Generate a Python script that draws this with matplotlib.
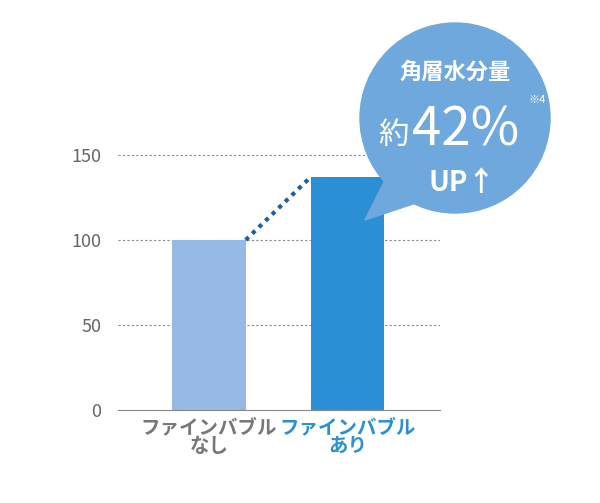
import matplotlib
matplotlib.use("Agg")
import matplotlib.pyplot as plt
from matplotlib.patches import Circle, Polygon

categories = ["ファインバブル\nなし", "ファインバブル\nあり"]
values = [100, 137]
yticks = [0, 50, 100, 150]
bar_colors = ["#97b9e3", "#2a8fd4"]
label_colors = ["#777777", "#2a8fd4"]

plt.rcParams['font.family'] = ['Noto Sans CJK JP', 'DejaVu Sans']
W, H = 600, 503
fig = plt.figure(figsize=(6, 5.03), dpi=100)
ax = fig.add_axes([118/W, (H-410)/H, (440-118)/W, (410-155)/H])
x = [0.7, 2.3]
ax.bar(x, values, width=0.85, color=bar_colors, zorder=2)
ax.set_xlim(-0.35, 3.37)
ax.set_ylim(0, 150)
ax.set_yticks(yticks)
for t in yticks[1:]:
    ax.axhline(t, color="#888888", lw=0.8, ls=(0, (2, 2)), zorder=1)
ax.plot([x[0]+0.425, x[1]-0.425], values, ls=(0, (1, 1.2)), lw=3, color="#1f5fa8", zorder=3)
for s in ["top", "right", "left"]:
    ax.spines[s].set_visible(False)
ax.spines["bottom"].set_color("#888888")
ax.tick_params(axis="y", length=0, labelsize=13, labelcolor="#666666", pad=12)
ax.set_xticks(x)
ax.set_xticklabels(categories, fontsize=14, fontweight="bold", linespacing=0.95)
for lab, c in zip(ax.get_xticklabels(), label_colors):
    lab.set_color(c)
ax.tick_params(axis="x", length=0, pad=6)

ov = fig.add_axes([0, 0, 1, 1], zorder=5)
ov.set_xlim(0, W); ov.set_ylim(H, 0); ov.axis("off")
bc = "#6fa8dc"
ov.add_patch(Circle((455, 118), 95, color=bc))
ov.add_patch(Polygon([[385, 180], [365, 220], [425, 200]], color=bc))
ov.text(455, 72, "角層水分量", color="white", fontsize=16, fontweight="bold", ha="center", va="center")
ov.text(393, 135, "約", color="white", fontsize=22, ha="center", va="center")
ov.text(466, 130, "42%", color="white", fontsize=38, ha="center", va="center")
ov.text(537, 100, "※4", color="white", fontsize=8, ha="center", va="center")
ov.text(462, 183, "UP↑", color="white", fontsize=20, fontweight="bold", ha="center", va="center")
fig.savefig("out.png", dpi=100)
